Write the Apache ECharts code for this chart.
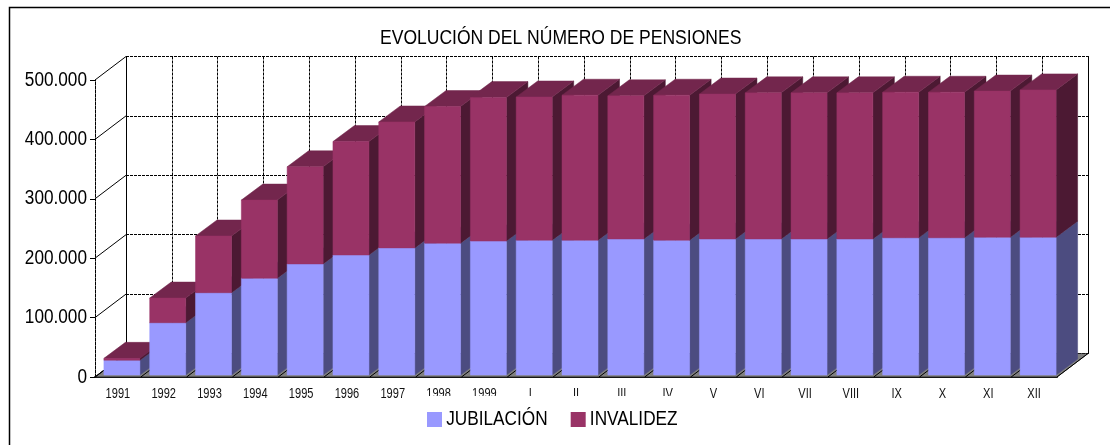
<!DOCTYPE html>
<html>
<head>
<meta charset="utf-8">
<style>html,body{margin:0;padding:0;background:#fff}#c{width:1110px;height:445px}</style>
<script src="https://cdn.jsdelivr.net/npm/echarts@6/dist/echarts.min.js"></script>
</head>
<body>
<div id="c"></div>
<script>
var categories = ['1991','1992','1993','1994','1995','1996','1997','1998','1999','I','II','III','IV','V','VI','VII','VIII','IX','X','XI','XII'];
var jubilacion = [25000,88000,138500,163000,187000,202000,214000,222000,225500,227000,227000,229000,227000,229000,229000,229000,229000,231000,231000,232000,232000];
var invalidez = [3000,41500,95500,131500,163500,191000,212000,230000,241500,241000,244000,241000,244000,244000,246000,246000,246000,245000,245000,246000,248000];
var yTicks = [0,100000,200000,300000,400000,500000];

var FONT = '"Liberation Sans",Arial,sans-serif';
var WALL_DX = 31, WALL_DY = -23.5;
var BAR_DX = 21.5, BAR_DY = -16, BAR_OX = 4, BAR_OY = -2, BAR_RATIO = 0.786;

function bar(colors, startOf, endOf, order) {
  return function (params, api) {
    var i = api.value(0);
    var a = api.coord([i, startOf(api)]);
    var b = api.coord([i, endOf(api)]);
    var w = api.size([1, 0])[0] * BAR_RATIO;
    var x0 = a[0] - w / 2 + BAR_OX, x1 = a[0] + w / 2 + BAR_OX;
    var y0 = a[1] + BAR_OY, y1 = b[1] + BAR_OY;
    var z = i * 3 + order;
    function poly(pts, fill, stroke) {
      return {type: 'polygon', z2: z, shape: {points: pts},
        style: {fill: fill, stroke: stroke || fill, lineWidth: 0.5}};
    }
    return {type: 'group', children: [
      poly([[x1, y0], [x1 + BAR_DX, y0 + BAR_DY], [x1 + BAR_DX, y1 + BAR_DY], [x1, y1]], colors[2]),
      poly([[x0, y1], [x1, y1], [x1 + BAR_DX, y1 + BAR_DY], [x0 + BAR_DX, y1 + BAR_DY]], colors[1]),
      poly([[x0, y0], [x1, y0], [x1, y1], [x0, y1]], colors[0])
    ]};
  };
}

var barRows = categories.map(function (c, i) { return [i, jubilacion[i], invalidez[i]]; });
var tickRows = yTicks.map(function (v) { return [v]; });
var catRows = categories.map(function (c, i) { return [i]; }).concat([[categories.length]]);

var chart = echarts.init(document.getElementById('c'));
chart.setOption({
  animation: false,
  backgroundColor: '#fff',
  title: {
    text: 'EVOLUCIÓN DEL NÚMERO DE PENSIONES',
    left: 380, top: 23, padding: [5, 0, 5, 0],
    textStyle: {fontFamily: FONT, fontSize: 20.5, fontWeight: 'normal', color: '#000'}
  },
  graphic: [{
    type: 'polyline', silent: true, z: 0,
    shape: {points: [[9.5, 445], [9.5, 7.5], [1110, 7.5]]},
    style: {stroke: '#000', lineWidth: 1.5, fill: null}
  }],
  legend: {
    data: ['JUBILACIÓN', 'INVALIDEZ'],
    left: 415, top: 396, z: 50,
    padding: [13, 0, 14, 12],
    backgroundColor: '#fff',
    itemWidth: 15, itemHeight: 15, itemGap: 1,
    icon: 'rect',
    textStyle: {fontFamily: FONT, fontSize: 21, color: '#000', padding: [0, 0, 0, -1]}
  },
  grid: [
    {left: 95, right: 53, top: 80, bottom: 68},
    {left: 126, right: 22, top: 56.5, bottom: 91.5}
  ],
  xAxis: [
    {gridIndex: 0, type: 'category', data: categories, boundaryGap: true,
      axisLine: {lineStyle: {color: '#222', width: 2}},
      axisTick: {length: 5, lineStyle: {color: '#222', width: 1}},
      axisLabel: {fontFamily: FONT, fontSize: 14, color: '#111', margin: 10, interval: 0},
      splitLine: {show: false}},
    {gridIndex: 1, type: 'category', data: categories, boundaryGap: true,
      axisLine: {show: false}, axisTick: {show: false}, axisLabel: {show: false},
      splitLine: {show: true, interval: 0, lineStyle: {color: '#000', width: 1, type: [3, 1]}}}
  ],
  yAxis: [
    {gridIndex: 0, type: 'value', min: 0, max: 500000, interval: 100000,
      axisLine: {show: true, lineStyle: {color: '#000', width: 1, type: [3, 1]}},
      axisTick: {show: true, length: 5, lineStyle: {color: '#000', width: 1}},
      axisLabel: {fontFamily: FONT, fontSize: 20, color: '#000', margin: 8,
        formatter: function (v) { return String(v).replace(/\B(?=(\d{3})+$)/g, '.'); }},
      splitLine: {show: false}},
    {gridIndex: 1, type: 'value', min: 0, max: 500000, interval: 100000,
      axisLine: {show: true, lineStyle: {color: '#000', width: 1, type: [3, 1]}},
      axisTick: {show: false}, axisLabel: {show: false},
      splitLine: {show: true, lineStyle: {color: '#000', width: 1, type: [3, 1]}}},
    {gridIndex: 1, type: 'value', position: 'right', min: 0, max: 500000, interval: 100000,
      axisLine: {show: true, lineStyle: {color: '#000', width: 1, type: [3, 1]}},
      axisTick: {show: false}, axisLabel: {show: false}, splitLine: {show: false}}
  ],
  series: [
    {type: 'custom', name: 'floor', xAxisIndex: 0, yAxisIndex: 0, z: 1, silent: true,
      data: [[0]], encode: {x: 0, y: 0},
      renderItem: function (p, api) {
        var w = api.size([1, 0])[0];
        var a = api.coord([0, 0]), b = api.coord([categories.length - 1, 0]);
        var l = a[0] - w / 2, r = b[0] + w / 2, y = a[1];
        return {type: 'polygon', shape: {points: [[l, y], [r, y], [r + WALL_DX, y + WALL_DY], [l + WALL_DX, y + WALL_DY]]},
          style: {fill: '#808080', stroke: '#000', lineWidth: 0.6}};
      }},
    {type: 'custom', name: 'floorLines', xAxisIndex: 0, yAxisIndex: 0, z: 1, silent: true,
      data: catRows, encode: {x: 0},
      renderItem: function (p, api) {
        var w = api.size([1, 0])[0];
        var a = api.coord([api.value(0), 0]);
        var x = a[0] - w / 2;
        return {type: 'line', z2: 2, shape: {x1: x, y1: a[1], x2: x + WALL_DX, y2: a[1] + WALL_DY},
          style: {stroke: '#000', lineWidth: 1}};
      }},
    {type: 'custom', name: 'wallLines', xAxisIndex: 0, yAxisIndex: 0, z: 1, silent: true,
      data: tickRows, encode: {y: 0},
      renderItem: function (p, api) {
        var w = api.size([1, 0])[0];
        var a = api.coord([0, api.value(0)]);
        var x = a[0] - w / 2;
        return {type: 'line', z2: 2, shape: {x1: x, y1: a[1], x2: x + WALL_DX, y2: a[1] + WALL_DY},
          style: {stroke: '#000', lineWidth: 1}};
      }},
    {type: 'custom', name: 'JUBILACIÓN', xAxisIndex: 0, yAxisIndex: 0, z: 3,
      itemStyle: {color: '#9999FF'}, data: barRows, encode: {x: 0, y: 1},
      renderItem: bar(['#9999FF', '#73739F', '#4C4C80'],
        function () { return 0; },
        function (api) { return api.value(1); }, 0)},
    {type: 'custom', name: 'INVALIDEZ', xAxisIndex: 0, yAxisIndex: 0, z: 3,
      itemStyle: {color: '#993366'}, data: barRows, encode: {x: 0, y: 2},
      renderItem: bar(['#993366', '#73264D', '#4C1933'],
        function (api) { return api.value(1); },
        function (api) { return api.value(1) + api.value(2); }, 1)}
  ]
});

// The reference uses a condensed face that is not installed: narrow the real text elements.
function narrowText(el) {
  if (el.type === 'text' && el.style) {
    var size = el.style.fontSize;
    var k = size === 14 ? 0.79 : (size === 21 ? 0.82 : (size === 20.5 ? 0.855 : 0.86));
    el.originX = el.style.x || 0;
    el.originY = el.style.y || 0;
    el.scaleX = k;
    el.dirty && el.dirty();
  }
  var kids = el.childrenRef ? el.childrenRef() : null;
  if (kids) kids.forEach(narrowText);
  if (el.getTextContent && el.getTextContent()) narrowText(el.getTextContent());
}
var zr = chart.getZr();
zr.storage.getRoots().forEach(narrowText);
zr.refresh();
</script>
</body>
</html>
